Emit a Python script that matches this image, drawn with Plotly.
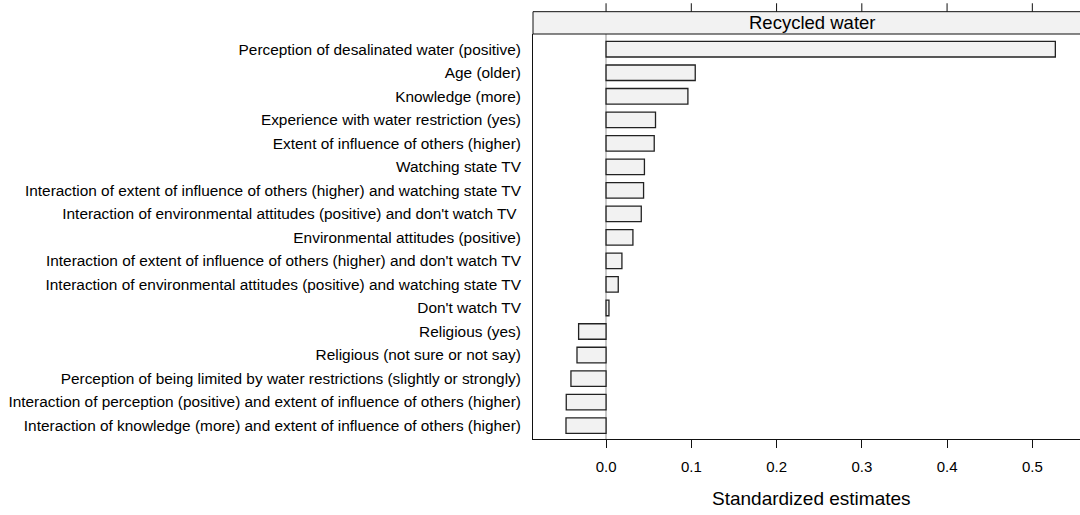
import plotly.graph_objects as go

categories = [
    "Perception of desalinated water (positive)",
    "Age (older)",
    "Knowledge (more)",
    "Experience with water restriction (yes)",
    "Extent of influence of others (higher)",
    "Watching state TV",
    "Interaction of extent of influence of others (higher) and watching state TV",
    "Interaction of environmental attitudes (positive) and don't watch TV ",
    "Environmental attitudes (positive)",
    "Interaction of extent of influence of others (higher) and don't watch TV",
    "Interaction of environmental attitudes (positive) and watching state TV",
    "Don't watch TV",
    "Religious (yes)",
    "Religious (not sure or not say)",
    "Perception of being limited by water restrictions (slightly or strongly)",
    "Interaction of perception (positive) and extent of influence of others (higher)",
    "Interaction of knowledge (more) and extent of influence of others (higher)",
]
estimates = [0.527, 0.1046, 0.096, 0.058, 0.0565, 0.045, 0.044, 0.0413, 0.0315,
             0.0186, 0.0143, 0.0034, -0.0322, -0.0341, -0.0412, -0.0467, -0.047]
tick_values = [0.0, 0.1, 0.2, 0.3, 0.4, 0.5]
tick_labels = ["0.0", "0.1", "0.2", "0.3", "0.4", "0.5"]
panel_title = "Recycled water"
x_title = "Standardized estimates"

W, H = 1080, 515
L, R, T, B = 533, 0, 34, 76.3
ph = H - T - B
pw = W - L - R
FONT = "Liberation Sans, Arial, Helvetica, sans-serif"

fig = go.Figure()
fig.add_trace(go.Bar(
    x=estimates, y=categories, orientation="h", base=0,
    width=0.66,
    marker=dict(color="#f2f2f2", line=dict(color="#222222", width=1.3)),
    showlegend=False,
))

strip_y0 = 1.0
strip_y1 = 1 + (34 - 11.7) / ph
tick_top = strip_y1 + 8.4 / ph

shapes = [
    dict(type="rect", xref="paper", yref="paper", x0=0, x1=1.02, y0=strip_y0, y1=strip_y1,
         fillcolor="#f2f2f2", line=dict(color="#111111", width=1), layer="above"),
]
for tv in tick_values:
    shapes.append(dict(type="line", xref="x", yref="paper", x0=tv, x1=tv,
                       y0=strip_y1, y1=tick_top, line=dict(color="#111111", width=1)))

fig.update_layout(
    width=W, height=H,
    margin=dict(l=L, r=R, t=T, b=B, pad=0),
    paper_bgcolor="white", plot_bgcolor="white",
    font=dict(family=FONT, size=15, color="black"),
    bargap=0,
    shapes=shapes,
    annotations=[
        dict(text=panel_title, xref="paper", yref="paper",
             x=(812 - L) / pw, y=(strip_y0 + strip_y1) / 2,
             xanchor="center", yanchor="middle", showarrow=False,
             font=dict(family=FONT, size=18.5, color="black")),
        dict(text=x_title, xref="paper", yref="paper",
             x=(811 - L) / pw, y=(438.7 - 498.5) / ph,
             xanchor="center", yanchor="middle", showarrow=False,
             font=dict(family=FONT, size=19, color="black")),
    ],
    xaxis=dict(
        range=[-0.0857, (W - 605.8) / 853.0],
        tickvals=tick_values, ticktext=tick_labels,
        ticks="outside", ticklen=8, tickwidth=1, tickcolor="#111111",
        showline=True, linecolor="#111111", linewidth=1,
        showgrid=False, zeroline=True, zerolinecolor="#c8c8c8", zerolinewidth=1.5,
        tickfont=dict(family=FONT, size=15, color="black"),
        ticklabelstandoff=6,
    ),
    yaxis=dict(
        categoryorder="array", categoryarray=categories,
        range=[16.57, -0.647],
        ticks="", showline=True, linecolor="#111111", linewidth=1,
        showgrid=False, zeroline=False,
        tickfont=dict(family=FONT, size=15.4, color="black"),
        ticklabelstandoff=8,
    ),
)

fig.write_html(
    "out.html",
    config={"displayModeBar": False, "staticPlot": True},
    post_script="document.body.style.margin='0px';document.body.style.overflow='hidden';",
)
